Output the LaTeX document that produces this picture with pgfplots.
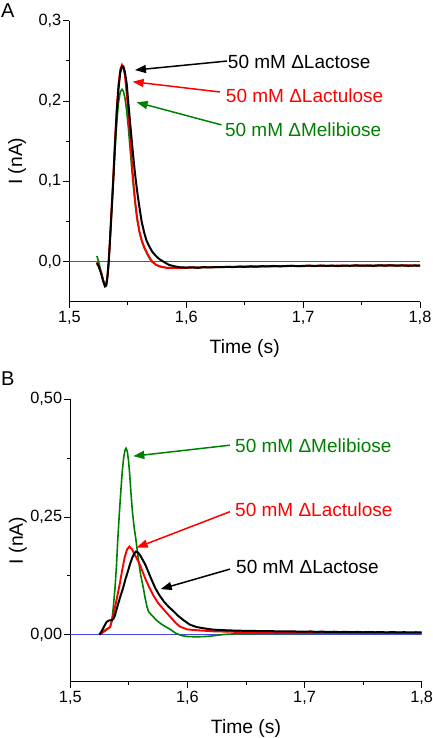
\documentclass[border=0pt]{standalone}
\usepackage{fontspec}
\setmainfont{Liberation Sans}
\usepackage{pgfplots}
\pgfplotsset{compat=1.18}
\usetikzlibrary{arrows.meta}
\definecolor{cgreen}{RGB}{0,128,0}
\definecolor{cred}{RGB}{255,0,0}
\definecolor{cblue}{RGB}{70,70,230}

\pgfplotsset{
 myaxis/.style={
  scale only axis,
  anchor=south west,
  xmin=1.5, xmax=1.8,
  xtick={1.5,1.6,1.7,1.8},
  minor x tick num=1,
  minor y tick num=1,
  axis x line*=bottom, axis y line*=left,
  axis line style={-, line width=0.9pt},
  every outer x axis line/.append style={-},
  every outer y axis line/.append style={-},
  tick align=outside,
  major tick length=6pt, minor tick length=3.5pt,
  tick style={line width=0.9pt, black},
  /pgf/number format/assume math mode=true,
  /pgf/number format/use comma,
  xticklabel style={/pgf/number format/fixed, /pgf/number format/precision=1, /pgf/number format/fixed zerofill},
  tick label style={font=\fontsize{16.3}{19}\selectfont},
  yticklabel style={inner sep=2pt},
  label style={font=\fontsize{19.3}{22}\selectfont},
  xlabel={Time (s)}, ylabel={I (nA)},
  xlabel style={at={(axis description cs:0.5,0)}, anchor=base, yshift=-52pt},
  ylabel style={at={(axis description cs:-0.149,0.5)}, anchor=center},
 },
}
\tikzset{
 ann/.style={anchor=west, inner sep=0pt, font=\fontsize{19}{22}\selectfont},
 arr/.style={-{Triangle[length=11pt,width=8pt]}, line width=1.5pt},
}

\begin{document}
\begin{tikzpicture}
\useasboundingbox (0,0) rectangle (432pt,738pt);

% ---------------- Panel A ----------------
\begin{axis}[myaxis,
  at={(69.4pt,436.3pt)}, width=350.6pt, height=281pt,
  ymin=-0.05, ymax=0.3, ytick={0,0.1,0.2,0.3},
  yticklabel style={/pgf/number format/fixed, /pgf/number format/precision=1, /pgf/number format/fixed zerofill},
]
\addplot[cblue, line width=1pt] coordinates {(1.5,0) (1.8,0)};
% Melibiose
\addplot[cgreen, line width=1.6pt] coordinates {
(1.5235,0.007) (1.525,0.000) (1.527,-0.012) (1.529,-0.023) (1.5305,-0.030) (1.5315,-0.029)
(1.5325,-0.019) (1.5335,-0.003) (1.5345,0.020) (1.536,0.058) (1.5375,0.097) (1.539,0.138)
(1.5405,0.173) (1.542,0.198) (1.5435,0.211) (1.545,0.2145) (1.5462,0.212) (1.5475,0.204)
(1.549,0.188) (1.5505,0.166) (1.552,0.140) (1.5535,0.114) (1.555,0.090) (1.5565,0.069)
(1.558,0.052) (1.560,0.036) (1.562,0.025) (1.564,0.017) (1.567,0.008) (1.5703,0.000)
(1.574,-0.004) (1.578,-0.006) (1.583,-0.0075) (1.590,-0.0078) (1.600,-0.0077)
(1.61,-0.0072) (1.62,-0.0073) (1.63,-0.0067) (1.64,-0.0068) (1.65,-0.0063) (1.66,-0.0061)
(1.67,-0.0060) (1.68,-0.0057) (1.69,-0.0058) (1.70,-0.0054) (1.71,-0.0056) (1.72,-0.0051)
(1.73,-0.0054) (1.74,-0.0050) (1.75,-0.0053) (1.76,-0.0048) (1.77,-0.0052) (1.78,-0.0049)
(1.79,-0.0051) (1.80,-0.0049)};
% Lactulose
\addplot[cred, line width=1.9pt] coordinates {
(1.5235,-0.001) (1.525,-0.005) (1.527,-0.013) (1.529,-0.024) (1.5305,-0.030) (1.5315,-0.029)
(1.5325,-0.019) (1.5335,-0.002) (1.5345,0.022) (1.536,0.063) (1.5375,0.104) (1.539,0.150)
(1.5405,0.190) (1.542,0.220) (1.5435,0.239) (1.545,0.245) (1.5462,0.242) (1.5475,0.232)
(1.549,0.210) (1.5505,0.183) (1.552,0.152) (1.5535,0.122) (1.555,0.095) (1.5565,0.072)
(1.558,0.054) (1.560,0.037) (1.562,0.026) (1.564,0.018) (1.567,0.009) (1.5703,0.001)
(1.574,-0.004) (1.578,-0.0065) (1.583,-0.0078) (1.590,-0.0080) (1.600,-0.0078)
(1.605,-0.0074) (1.61,-0.0076) (1.615,-0.0070) (1.62,-0.0071) (1.63,-0.0068) (1.64,-0.0066)
(1.65,-0.0062) (1.66,-0.0063) (1.67,-0.0058) (1.68,-0.0059) (1.69,-0.0055) (1.70,-0.0057)
(1.71,-0.0052) (1.72,-0.0055) (1.73,-0.0051) (1.74,-0.0053) (1.75,-0.0049) (1.76,-0.0052)
(1.77,-0.0047) (1.78,-0.0050) (1.79,-0.0048) (1.80,-0.0051)};
% Lactose
\addplot[black, line width=2pt] coordinates {
(1.5235,-0.002) (1.525,-0.006) (1.527,-0.014) (1.529,-0.025) (1.5305,-0.031) (1.5315,-0.030)
(1.5325,-0.020) (1.5335,-0.003) (1.5345,0.020) (1.536,0.060) (1.5375,0.100) (1.539,0.145)
(1.5405,0.185) (1.542,0.215) (1.5435,0.235) (1.545,0.243) (1.5462,0.243) (1.5475,0.236)
(1.549,0.222) (1.5503,0.200) (1.552,0.172) (1.5537,0.145) (1.5553,0.121) (1.5569,0.100)
(1.5585,0.082) (1.560,0.067) (1.5618,0.050) (1.564,0.036) (1.566,0.026) (1.5683,0.019)
(1.571,0.012) (1.574,0.007) (1.577,0.003) (1.5803,0.000) (1.585,-0.004) (1.590,-0.006)
(1.595,-0.0072) (1.600,-0.0075) (1.605,-0.0072) (1.610,-0.0078) (1.615,-0.0070) (1.620,-0.0074)
(1.625,-0.0068) (1.630,-0.0071) (1.635,-0.0066) (1.640,-0.0069) (1.645,-0.0063) (1.650,-0.0066)
(1.655,-0.0060) (1.660,-0.0064) (1.665,-0.0058) (1.670,-0.0061) (1.675,-0.0055) (1.680,-0.0060)
(1.685,-0.0056) (1.690,-0.0052) (1.695,-0.0058) (1.700,-0.0054) (1.705,-0.0050) (1.710,-0.0057)
(1.715,-0.0049) (1.720,-0.0054) (1.725,-0.0051) (1.730,-0.0056) (1.735,-0.0050) (1.740,-0.0053)
(1.745,-0.0047) (1.750,-0.0052) (1.755,-0.0049) (1.760,-0.0054) (1.765,-0.0047) (1.770,-0.0051)
(1.775,-0.0046) (1.780,-0.0052) (1.785,-0.0048) (1.790,-0.0053) (1.795,-0.0049) (1.800,-0.0050)};

\draw[arr, black] (axis cs:1.6347,0.2497) -- (axis cs:1.5561,0.2385);
\draw[arr, cred] (axis cs:1.6287,0.2112) -- (axis cs:1.5541,0.2240);
\draw[arr, cgreen] (axis cs:1.6301,0.1702) -- (axis cs:1.5575,0.1984);
\node[ann, text=black] at (axis cs:1.6355,0.2484) {50 mM ΔLactose};
\node[ann, text=cred] at (axis cs:1.6338,0.2062) {50 mM ΔLactulose};
\node[ann, text=cgreen] at (axis cs:1.6330,0.1640) {50 mM ΔMelibiose};
\end{axis}

% ---------------- Panel B ----------------
\begin{axis}[myaxis,
  at={(70.3pt,56.3pt)}, width=351.4pt, height=282.4pt,
  ymin=-0.1, ymax=0.5, ytick={0,0.25,0.5},
  yticklabel style={/pgf/number format/fixed, /pgf/number format/precision=2, /pgf/number format/fixed zerofill},
]
\addplot[cblue, line width=1pt] coordinates {(1.5,0) (1.8,0)};
% Melibiose
\addplot[cgreen, line width=1.6pt] coordinates {
(1.5248,0.000) (1.527,0.003) (1.530,0.008) (1.532,0.012) (1.534,0.016) (1.5355,0.030)
(1.5368,0.060) (1.5382,0.100) (1.5395,0.150) (1.5405,0.200) (1.5418,0.255) (1.543,0.300)
(1.5443,0.345) (1.5455,0.375) (1.5467,0.392) (1.5476,0.396) (1.5486,0.390) (1.5497,0.370)
(1.5508,0.338) (1.5518,0.300) (1.553,0.262) (1.5545,0.228) (1.5561,0.200) (1.558,0.162)
(1.560,0.128) (1.5623,0.100) (1.564,0.076) (1.5655,0.059) (1.567,0.048) (1.570,0.040)
(1.5738,0.030) (1.578,0.022) (1.582,0.016) (1.586,0.010) (1.590,0.003) (1.595,-0.002)
(1.600,-0.004) (1.605,-0.0045) (1.610,-0.0045) (1.615,-0.004) (1.620,-0.003) (1.625,-0.0015)
(1.630,0.000) (1.635,0.001) (1.640,0.0015) (1.66,0.002) (1.68,0.0025) (1.70,0.002)
(1.72,0.003) (1.74,0.0025) (1.76,0.003) (1.78,0.0028) (1.80,0.003)};
% Lactulose
\addplot[cred, line width=1.9pt] coordinates {
(1.5248,0.000) (1.527,0.004) (1.530,0.010) (1.532,0.013) (1.534,0.016) (1.5355,0.030)
(1.537,0.046) (1.5385,0.062) (1.540,0.080) (1.5424,0.110) (1.5445,0.140) (1.5465,0.165)
(1.5485,0.181) (1.5504,0.187) (1.5525,0.182) (1.555,0.170) (1.5575,0.158) (1.5595,0.148)
(1.562,0.132) (1.5645,0.116) (1.5675,0.100) (1.571,0.083) (1.575,0.067) (1.5809,0.050)
(1.586,0.036) (1.590,0.025) (1.5937,0.017) (1.600,0.011) (1.610,0.009) (1.622,0.007)
(1.64,0.006) (1.66,0.005) (1.68,0.0048) (1.70,0.0045) (1.72,0.0042) (1.74,0.0044)
(1.76,0.0040) (1.78,0.0042) (1.80,0.0038)};
% Lactose
\addplot[black, line width=2pt] coordinates {
(1.5248,0.000) (1.527,0.008) (1.529,0.018) (1.531,0.027) (1.533,0.030) (1.5355,0.031)
(1.5367,0.033) (1.538,0.040) (1.540,0.058) (1.542,0.075) (1.5435,0.087) (1.5452,0.100)
(1.547,0.117) (1.549,0.133) (1.551,0.150) (1.553,0.164) (1.5545,0.172) (1.5561,0.1765)
(1.558,0.174) (1.560,0.167) (1.562,0.158) (1.5638,0.150) (1.566,0.137) (1.569,0.119)
(1.5723,0.100) (1.576,0.084) (1.580,0.070) (1.584,0.059) (1.588,0.050) (1.592,0.040)
(1.597,0.030) (1.6022,0.021) (1.608,0.016) (1.615,0.013) (1.622,0.0106) (1.635,0.009)
(1.650,0.008) (1.665,0.0075) (1.679,0.007) (1.690,0.0068) (1.700,0.0062) (1.705,0.0068)
(1.710,0.0058) (1.715,0.0064) (1.720,0.0056) (1.725,0.0062) (1.730,0.0054) (1.735,0.0060)
(1.740,0.0052) (1.745,0.0058) (1.750,0.0050) (1.755,0.0056) (1.760,0.0050) (1.765,0.0055)
(1.770,0.0048) (1.775,0.0054) (1.780,0.0047) (1.785,0.0052) (1.790,0.0046) (1.795,0.0051)
(1.800,0.0046)};

\draw[arr, cgreen] (axis cs:1.6363,0.4025) -- (axis cs:1.5538,0.3792);
\draw[arr, cred] (axis cs:1.6363,0.2612) -- (axis cs:1.5567,0.1850);
\draw[arr, black] (axis cs:1.6363,0.1392) -- (axis cs:1.5772,0.0968);
\node[ann, text=cgreen] at (axis cs:1.6406,0.4004) {50 mM ΔMelibiose};
\node[ann, text=cred] at (axis cs:1.6406,0.2648) {50 mM ΔLactulose};
\node[ann, text=black] at (axis cs:1.6415,0.1447) {50 mM ΔLactose};
\end{axis}

\node[anchor=base west, inner sep=0pt, font=\fontsize{20}{24}\selectfont] at (1pt,720pt) {A};
\node[anchor=base west, inner sep=0pt, font=\fontsize{20}{24}\selectfont] at (1pt,352pt) {B};
\end{tikzpicture}
\end{document}
